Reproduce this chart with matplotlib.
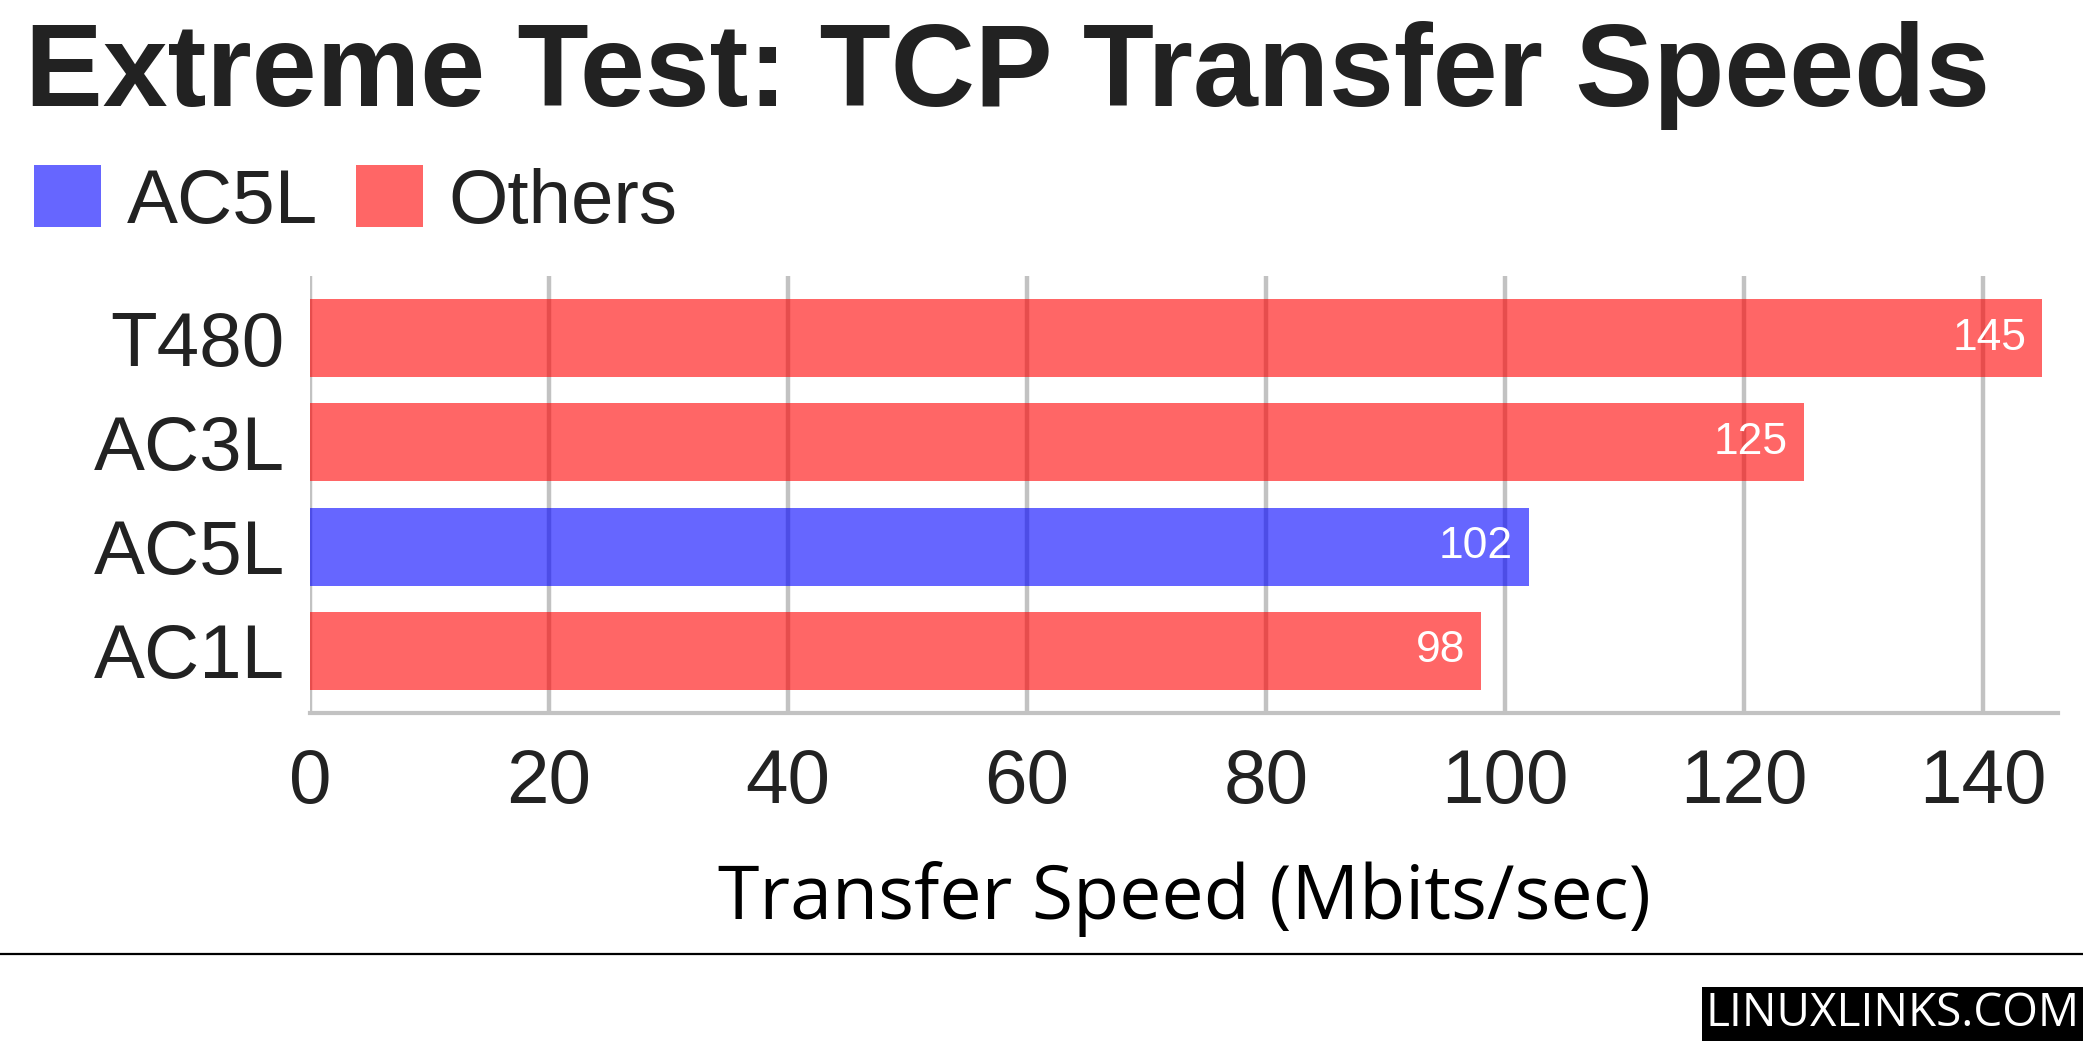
import matplotlib
matplotlib.use('Agg')
import matplotlib.pyplot as plt
from matplotlib.patches import Patch
from matplotlib.lines import Line2D

# data, top to bottom
devices = ['T480', 'AC3L', 'AC5L', 'AC1L']
speeds = [145, 125, 102, 98]
groups = ['Others', 'Others', 'AC5L', 'Others']
xticks = [0, 20, 40, 60, 80, 100, 120, 140]

# bars are see-through so the grid shows darker under them
COLORS = {'AC5L': (0, 0, 1, 0.6), 'Others': (1, 0, 0, 0.6)}
TXT = '#222222'
GRID = '#C2C2C2'

fig = plt.figure(figsize=(20.83, 10.41), dpi=100)
ax = fig.add_axes([310/2083, 1 - 713/1041, (2058 - 310)/2083, (713 - 276)/1041])

ax.barh(range(len(devices)), speeds, height=0.75,
        color=[COLORS[g] for g in groups], lw=0, zorder=2)
for i, v in enumerate(speeds):
    ax.text(v - 1.3, i, str(v), ha='right', va='center', color='white',
            fontsize=32, family='Liberation Sans', zorder=3)

ax.set_xlim(0, 146.3)
ax.set_ylim(3.6, -0.6)
ax.set_yticks(range(len(devices)))
ax.set_yticklabels(devices)
ax.set_xticks(xticks)
ax.tick_params(length=0, labelsize=55, labelcolor=TXT)
ax.tick_params(axis='y', pad=18)
ax.tick_params(axis='x', pad=25)
for lab in ax.get_xticklabels() + ax.get_yticklabels():
    lab.set_family('Liberation Sans')

ax.grid(axis='x', color=GRID, lw=3.2, zorder=1)
ax.set_axisbelow(True)
for s in ['left', 'top', 'right']:
    ax.spines[s].set_visible(False)
ax.spines['bottom'].set_color(GRID)
ax.spines['bottom'].set_linewidth(3.0)

ax.set_xlabel('Transfer Speed (Mbits/sec)', fontsize=54.2, family='Open Sans',
              color='black', va='center')
ax.xaxis.set_label_coords(0.5, -0.426)

fig.text(25/2083, 1 - 106/1041, 'Extreme Test: TCP Transfer Speeds',
         fontsize=84, fontweight='bold', family='Liberation Sans',
         color=TXT, va='baseline', ha='left')

handles = [Patch(color=COLORS[k], lw=0) for k in ['AC5L', 'Others']]
fig.legend(handles, ['AC5L', 'Others'], loc='center left',
           bbox_to_anchor=(23/2083, 1 - 202/1041), ncol=2, frameon=False,
           prop={'family': 'Liberation Sans', 'size': 55},
           handlelength=0.87, handleheight=0.87, handletextpad=0.34,
           columnspacing=0.50, labelcolor=TXT, borderaxespad=0.0,
           borderpad=0.15)

fig.add_artist(Line2D([0, 1], [1 - 954/1041, 1 - 954/1041],
                      transform=fig.transFigure, color='black', lw=1.6))

fig.text(0.9985, 0.004, 'LINUXLINKS.COM', fontsize=33, family='Open Sans',
         color='white', ha='right', va='bottom',
         bbox=dict(facecolor='black', edgecolor='none', pad=3))

fig.savefig('out.png', dpi=100)
